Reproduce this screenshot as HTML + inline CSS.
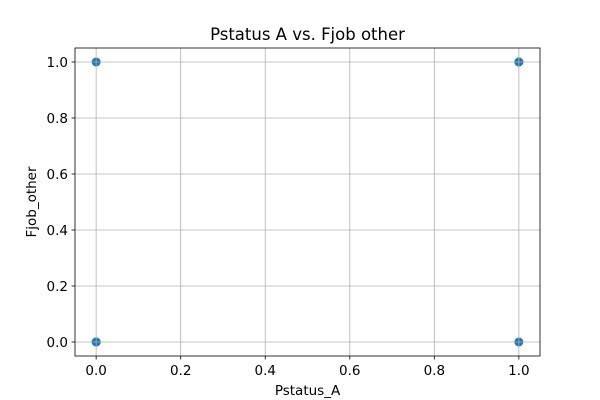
<!DOCTYPE html>
<html><head><meta charset="utf-8"><style>
body{margin:0;background:#fff;}
svg{display:block;font-family:"DejaVu Sans","Liberation Sans",sans-serif;}
</style></head><body>
<svg id="chart" width="600" height="400"></svg>
<script>
const xValues=[0,1,0,1,0,1];
const yValues=[0,1,1,0,0,1];
const xTicks=[0,0.2,0.4,0.6,0.8,1.0];
const yTicks=[0,0.2,0.4,0.6,0.8,1.0];
const xTickLabels=["0.0","0.2","0.4","0.6","0.8","1.0"];
const yTickLabels=["0.0","0.2","0.4","0.6","0.8","1.0"];
const L=75,R=540,T=48,B=356,xmin=-0.05,xmax=1.05,ymin=-0.05,ymax=1.05;
const sx=v=>L+(v-xmin)/(xmax-xmin)*(R-L);
const sy=v=>B-(v-ymin)/(ymax-ymin)*(B-T);
const svg=document.getElementById('chart');
const NS='http://www.w3.org/2000/svg';
function mk(tag,attrs,text){const e=document.createElementNS(NS,tag);for(const k in attrs)e.setAttribute(k,attrs[k]);if(text!==undefined)e.textContent=text;svg.appendChild(e);return e;}
xValues.forEach((v,i)=>{
 const c=mk('circle',{cx:sx(v),cy:sy(yValues[i]),r:4.5,fill:'#1f77b4'});
 
 
});
xTicks.forEach((t,i)=>{
 const x=sx(t);
 const g=mk('line',{x1:x,x2:x,y1:T,y2:B,stroke:'#b0b0b0','stroke-width':0.8});
 
 
 mk('line',{x1:x,x2:x,y1:B,y2:B+3.5,stroke:'#000','stroke-width':0.8});
 const lb=mk('text',{x:x,y:B+19,'text-anchor':'middle','font-size':13.5},xTickLabels[i]);
 
 
});
yTicks.forEach((t,i)=>{
 const y=sy(t);
 const g=mk('line',{x1:L,x2:R,y1:y,y2:y,stroke:'#b0b0b0','stroke-width':0.8});
 
 
 mk('line',{x1:L-3.5,x2:L,y1:y,y2:y,stroke:'#000','stroke-width':0.8});
 const lb=mk('text',{x:L-7,y:y+5,'text-anchor':'end','font-size':13.5},yTickLabels[i]);
 
 
});
const fr=mk('rect',{x:L,y:T,width:R-L,height:B-T,fill:'none',stroke:'#000','stroke-width':0.8});


const ti=mk('text',{x:(L+R)/2,y:T-8,'text-anchor':'middle','font-size':16.5},'Pstatus A vs. Fjob other');


const xt=mk('text',{x:(L+R)/2,y:395,'text-anchor':'middle','font-size':13.5},'Pstatus_A');


const yt=mk('text',{x:36,y:(T+B)/2,'text-anchor':'middle','font-size':13.5,transform:'rotate(-90 36 '+((T+B)/2)+')'},'Fjob_other');


</script>
</body></html>
